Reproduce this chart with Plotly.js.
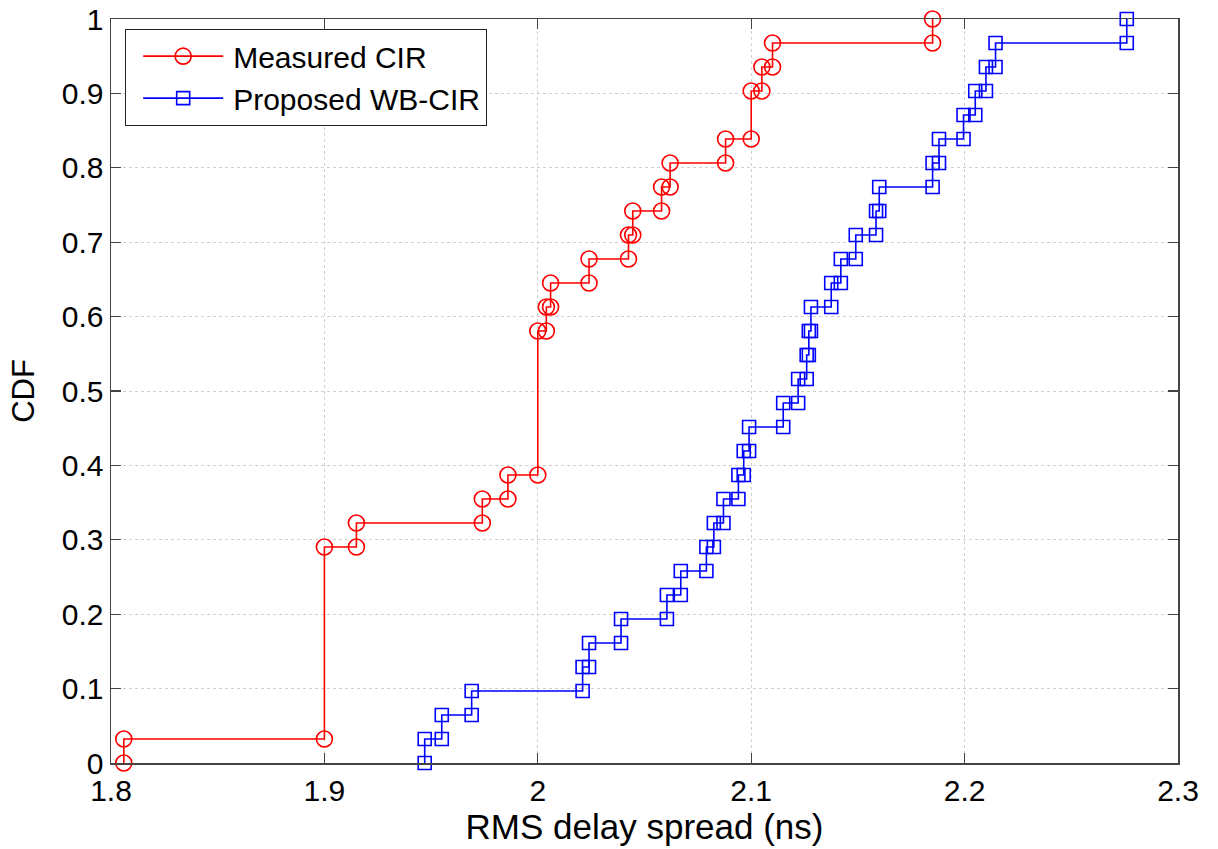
<!DOCTYPE html>
<html>
<head>
<meta charset="utf-8">
<script src="https://cdn.plot.ly/plotly-3.0.1.min.js"></script>
<style>html,body{margin:0;padding:0;background:#fff;}#chart{width:1218px;height:849px;}</style>
</head>
<body>
<div id="chart"></div>
<script>
// Sample values (ns), sorted
const measuredSamples = [1.806, 1.9, 1.9, 1.9, 1.9, 1.9, 1.9, 1.9, 1.9, 1.915, 1.974, 1.986,
  2.0, 2.0, 2.0, 2.0, 2.0, 2.0, 2.004, 2.006, 2.024, 2.0425, 2.0445, 2.058, 2.062, 2.088,
  2.1, 2.1, 2.105, 2.11, 2.185];
const proposedSamples = [1.947, 1.955, 1.969, 2.021, 2.024, 2.039, 2.0605, 2.067, 2.079, 2.0825,
  2.087, 2.094, 2.0965, 2.099, 2.115, 2.122, 2.126, 2.127, 2.128, 2.1375, 2.142, 2.149,
  2.1585, 2.16, 2.185, 2.188, 2.1995, 2.205, 2.21, 2.2145, 2.276];
const seriesNames = ['Measured CIR', 'Proposed WB-CIR'];
const xTickVals = [1.8, 1.9, 2.0, 2.1, 2.2, 2.3];
const xTickText = ['1.8', '1.9', '2', '2.1', '2.2', '2.3'];
const yTickVals = [0, 0.1, 0.2, 0.3, 0.4, 0.5, 0.6, 0.7, 0.8, 0.9, 1];
const yTickText = ['0', '0.1', '0.2', '0.3', '0.4', '0.5', '0.6', '0.7', '0.8', '0.9', '1'];

// Empirical CDF as stairs with a vertex at both corners of each step
function ecdfStairs(samples) {
  const s = samples.slice().sort((a, b) => a - b);
  const n = s.length;
  const xs = [], ys = [];
  let prev = 0;
  let i = 0;
  while (i < n) {
    let j = i;
    while (j < n && s[j] === s[i]) j++;
    const f = j / n;
    xs.push(s[i], s[i]);
    ys.push(prev, f);
    prev = f;
    i = j;
  }
  return {x: xs, y: ys};
}

const m = ecdfStairs(measuredSamples);
const p = ecdfStairs(proposedSamples);

const traces = [
  {x: m.x, y: m.y, name: seriesNames[0], type: 'scatter', mode: 'lines+markers', cliponaxis: false,
   line: {color: 'rgb(255,0,0)', width: 1.6},
   marker: {symbol: 'circle-open', size: 16, color: 'rgb(255,0,0)', line: {width: 1.6, color: 'rgb(255,0,0)'}}},
  {x: p.x, y: p.y, name: seriesNames[1], type: 'scatter', mode: 'lines+markers', cliponaxis: false,
   line: {color: 'rgb(0,0,255)', width: 1.6},
   marker: {symbol: 'square-open', size: 13, color: 'rgb(0,0,255)', line: {width: 1.6, color: 'rgb(0,0,255)'}}}
];

const font = '"Liberation Sans", Arial, Helvetica, sans-serif';
const layout = {
  width: 1218, height: 849,
  margin: {l: 111, r: 40, t: 19, b: 86, pad: 0},
  paper_bgcolor: '#fff', plot_bgcolor: '#fff',
  font: {family: font, color: '#000', size: 30},
  showlegend: true,
  legend: {x: 0.0131, y: 0.9866, xanchor: 'left', yanchor: 'top',
    bgcolor: '#fff', bordercolor: '#222', borderwidth: 1.2, itemwidth: 97,
    font: {family: font, size: 30, color: '#000'}, tracegroupgap: 0},
  xaxis: {range: [1.8, 2.3], tickvals: xTickVals, ticktext: xTickText,
    ticks: 'inside', ticklen: 10, tickwidth: 1.2, tickcolor: '#444',
    showline: true, linecolor: '#444', linewidth: 1.5, mirror: 'ticks',
    showgrid: true, gridcolor: '#cfcfcf', griddash: 'dot', gridwidth: 1,
    zeroline: false, tickfont: {size: 30, family: font, color: '#000'},
    title: {text: 'RMS delay spread (ns)', font: {size: 35, family: font, color: '#000'}, standoff: 0}},
  yaxis: {range: [0, 1], tickvals: yTickVals, ticktext: yTickText,
    ticks: 'inside', ticklen: 10, tickwidth: 1.2, tickcolor: '#444',
    showline: true, linecolor: '#444', linewidth: 1.5, mirror: 'ticks',
    showgrid: true, gridcolor: '#cfcfcf', griddash: 'dot', gridwidth: 1,
    zeroline: false, tickfont: {size: 30, family: font, color: '#000'},
    title: {text: 'CDF', font: {size: 31, family: font, color: '#000'}, standoff: 18}}
};

function widenLegendSymbols() {
  document.querySelectorAll('#chart .legend .traces').forEach(function (g) {
    const l = g.querySelector('.legendlines path');
    if (l) l.setAttribute('d', 'M17,0h80');
    g.querySelectorAll('.legendpoints path').forEach(function (pp) {
      pp.setAttribute('transform', 'translate(57,0)');
    });
  });
}

Plotly.newPlot('chart', traces, layout, {displayModeBar: false, staticPlot: true}).then(widenLegendSymbols);
</script>
</body>
</html>
